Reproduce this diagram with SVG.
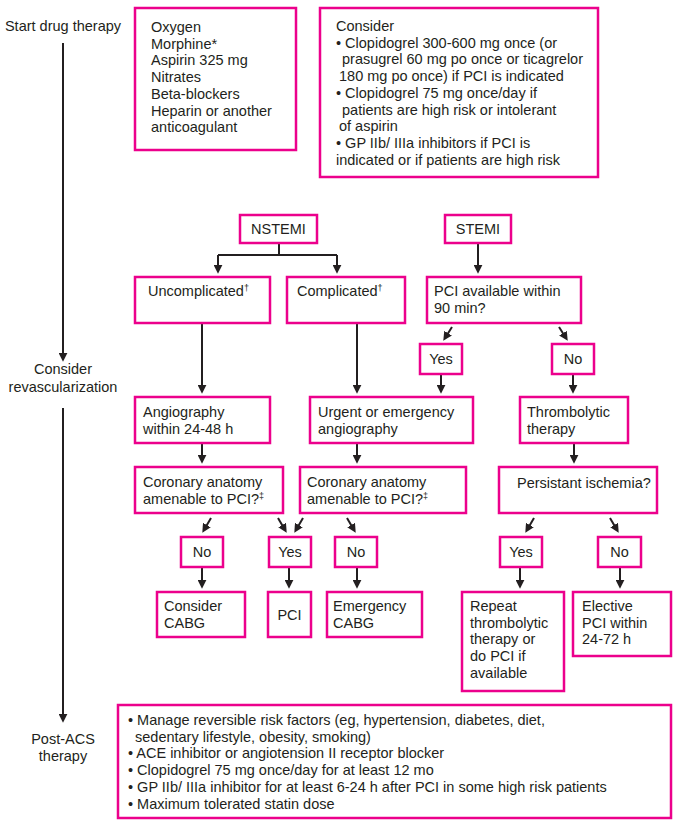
<svg xmlns="http://www.w3.org/2000/svg" width="680" height="828" viewBox="0 0 680 828">
<defs>
<marker id="ah" viewBox="0 0 10 10" refX="7" refY="5" markerWidth="9" markerHeight="9" markerUnits="userSpaceOnUse" orient="auto">
<path d="M0,0 L10,5 L0,10 z" fill="#231f20"/>
</marker>
<style>
rect{fill:#fff;stroke:#ec008c;stroke-width:2.5}
text{font-family:"Liberation Sans",Arial,sans-serif;font-size:14.5px;fill:#231f20}
.c{text-anchor:middle}
.sup{font-size:9px}
#connectors path{fill:none;stroke:#231f20;stroke-width:2}
.a{marker-end:url(#ah)}
</style>
</defs>
<rect width="680" height="828" style="fill:#fff;stroke:none"/>

<g id="labels">
<text x="63" y="31" class="c">Start drug therapy</text>
<text x="63" y="374" class="c">Consider</text>
<text x="63" y="392" class="c">revascularization</text>
<text x="63" y="744" class="c">Post-ACS</text>
<text x="63" y="761" class="c">therapy</text>
</g>

<g id="connectors">
<path class="a" d="M63,43 V359"/>
<path class="a" d="M63,408 V720"/>
<path d="M279,243 V255 M218,255 H337"/>
<path class="a" d="M218,255 V271"/>
<path class="a" d="M337,255 V271"/>
<path class="a" d="M478,243 V271"/>
<path class="a" d="M202,323 V391"/>
<path class="a" d="M357,323 V391"/>
<path class="a" d="M452,327 L444.7,338.5"/>
<path class="a" d="M559,327 L566.3,338.5"/>
<path class="a" d="M441,374 V391"/>
<path class="a" d="M573,374 V391"/>
<path class="a" d="M202,443 V461"/>
<path class="a" d="M357,443 V461"/>
<path class="a" d="M574,443 V461"/>
<path class="a" d="M211,518 L203.7,530.5"/>
<path class="a" d="M278,518 L285.3,530.5"/>
<path class="a" d="M303,518 L295.7,530.5"/>
<path class="a" d="M347,518 L354.3,530.5"/>
<path class="a" d="M534,518 L526.7,530.5"/>
<path class="a" d="M610,518 L617.3,530.5"/>
<path class="a" d="M202,567 V586"/>
<path class="a" d="M289,567 V586"/>
<path class="a" d="M357,567 V586"/>
<path class="a" d="M520,567 V586"/>
<path class="a" d="M620,567 V586"/>
</g>

<g id="drugs">
<rect x="135" y="8" width="161" height="142"/>
<text x="151" y="32">Oxygen</text>
<text x="151" y="48.7">Morphine*</text>
<text x="151" y="65.4">Aspirin 325 mg</text>
<text x="151" y="82.1">Nitrates</text>
<text x="151" y="98.8">Beta-blockers</text>
<text x="151" y="115.5">Heparin or another</text>
<text x="151" y="132.2">anticoagulant</text>
</g>

<g id="consider">
<rect x="320" y="8" width="278" height="169"/>
<text x="336" y="31">Consider</text>
<text x="336" y="47.7">• Clopidogrel 300-600 mg once (or</text>
<text x="342" y="64.4">prasugrel 60 mg po once or ticagrelor</text>
<text x="339" y="81.1">180 mg po once) if PCI is indicated</text>
<text x="336" y="97.8">• Clopidogrel 75 mg once/day if</text>
<text x="342" y="114.5">patients are high risk or intolerant</text>
<text x="339" y="131.2">of aspirin</text>
<text x="336" y="147.9">• GP IIb/ IIIa inhibitors if PCI is</text>
<text x="336" y="164.6">indicated or if patients are high risk</text>
</g>

<g id="nstemi">
<rect x="240" y="215" width="77" height="28"/>
<text x="278.5" y="234" class="c">NSTEMI</text>
</g>
<g id="stemi">
<rect x="445" y="215" width="66" height="28"/>
<text x="478" y="234" class="c">STEMI</text>
</g>

<g id="uncomplicated">
<rect x="135" y="277" width="135" height="46"/>
<text x="148" y="296">Uncomplicated<tspan class="sup" dy="-5">†</tspan></text>
</g>
<g id="complicated">
<rect x="287" y="277" width="118" height="46"/>
<text x="297" y="296">Complicated<tspan class="sup" dy="-5">†</tspan></text>
</g>
<g id="pci-available">
<rect x="427" y="277" width="154" height="46"/>
<text x="434" y="296">PCI available within</text>
<text x="434" y="312.7">90 min?</text>
</g>

<g id="stemi-yes">
<rect x="420" y="344" width="42" height="30"/>
<text x="441" y="364" class="c">Yes</text>
</g>
<g id="stemi-no">
<rect x="552" y="344" width="42" height="30"/>
<text x="573" y="364" class="c">No</text>
</g>

<g id="angiography">
<rect x="135" y="397" width="135" height="46"/>
<text x="143" y="417">Angiography</text>
<text x="143" y="433.7">within 24-48 h</text>
</g>
<g id="urgent">
<rect x="310" y="397" width="163" height="46"/>
<text x="318" y="417">Urgent or emergency</text>
<text x="318" y="433.7">angiography</text>
</g>
<g id="thrombolytic">
<rect x="520" y="397" width="108" height="46"/>
<text x="527" y="417">Thrombolytic</text>
<text x="527" y="433.7">therapy</text>
</g>

<g id="coronary1">
<rect x="135" y="467" width="148" height="46"/>
<text x="143" y="487">Coronary anatomy</text>
<text x="143" y="503.7">amenable to PCI?<tspan class="sup" dy="-5">‡</tspan></text>
</g>
<g id="coronary2">
<rect x="300" y="467" width="166" height="46"/>
<text x="307" y="487">Coronary anatomy</text>
<text x="307" y="503.7">amenable to PCI?<tspan class="sup" dy="-5">‡</tspan></text>
</g>
<g id="persistant">
<rect x="499" y="467" width="158" height="46"/>
<text x="517" y="488">Persistant ischemia?</text>
</g>

<g id="no1">
<rect x="181" y="537" width="42" height="30"/>
<text x="202" y="557" class="c">No</text>
</g>
<g id="yes1">
<rect x="269" y="537" width="42" height="30"/>
<text x="290" y="557" class="c">Yes</text>
</g>
<g id="no2">
<rect x="335" y="537" width="42" height="30"/>
<text x="356" y="557" class="c">No</text>
</g>
<g id="yes3">
<rect x="500" y="537" width="42" height="30"/>
<text x="521" y="557" class="c">Yes</text>
</g>
<g id="no3">
<rect x="598" y="537" width="43" height="30"/>
<text x="619.5" y="557" class="c">No</text>
</g>

<g id="consider-cabg">
<rect x="157" y="592" width="88" height="45"/>
<text x="164" y="611">Consider</text>
<text x="164" y="627.7">CABG</text>
</g>
<g id="pci">
<rect x="268" y="592" width="43" height="45"/>
<text x="289.5" y="620" class="c">PCI</text>
</g>
<g id="emergency-cabg">
<rect x="327" y="592" width="95" height="45"/>
<text x="333" y="611">Emergency</text>
<text x="333" y="627.7">CABG</text>
</g>
<g id="repeat">
<rect x="462" y="592" width="102" height="99"/>
<text x="470" y="611">Repeat</text>
<text x="470" y="627.7">thrombolytic</text>
<text x="470" y="644.4">therapy or</text>
<text x="470" y="661.1">do PCI if</text>
<text x="470" y="677.8">available</text>
</g>
<g id="elective">
<rect x="573" y="592" width="98" height="64"/>
<text x="582" y="611">Elective</text>
<text x="582" y="627.7">PCI within</text>
<text x="582" y="644.4">24-72 h</text>
</g>

<g id="post-acs">
<rect x="118" y="705" width="553" height="113"/>
<text x="128" y="725">• Manage reversible risk factors (eg, hypertension, diabetes, diet,</text>
<text x="135" y="741.7">sedentary lifestyle, obesity, smoking)</text>
<text x="128" y="758.4">• ACE inhibitor or angiotension II receptor blocker</text>
<text x="128" y="775.1">• Clopidogrel 75 mg once/day for at least 12 mo</text>
<text x="128" y="791.8">• GP IIb/ IIIa inhibitor for at least 6-24 h after PCI in some high risk patients</text>
<text x="128" y="808.5">• Maximum tolerated statin dose</text>
</g>
</svg>
